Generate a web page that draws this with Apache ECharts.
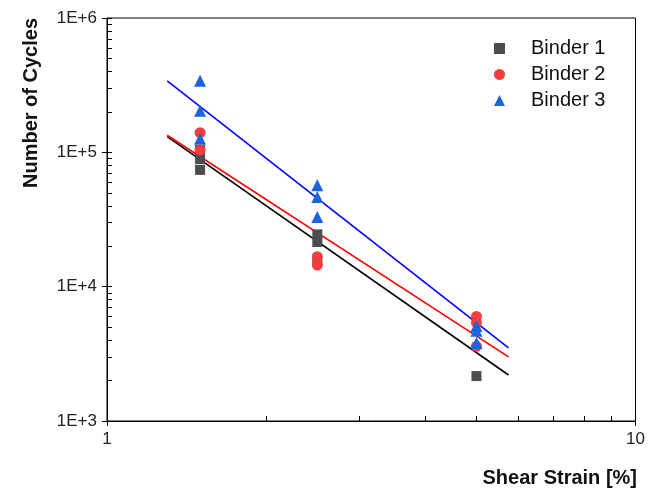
<!DOCTYPE html>
<html>
<head>
<meta charset="utf-8">
<script src="https://cdn.jsdelivr.net/npm/echarts@6/dist/echarts.min.js"></script>
<style>
html,body{margin:0;padding:0;background:#fff;}
#chart{width:648px;height:493px;}
</style>
</head>
<body>
<div id="chart"></div>
<script>
// ---- data ----
var seriesNames = ['Binder 1', 'Binder 2', 'Binder 3'];
var binder1 = [[1.5, 104000], [1.5, 89000], [1.5, 74000], [2.5, 24500], [2.5, 21500], [2.5, 15500], [5, 2160]];
var binder2 = [[1.5, 140000], [1.5, 104000], [2.5, 16700], [2.5, 14500], [5, 6000], [5, 5400], [5, 3600]];
var binder3 = [[1.5, 341000], [1.5, 204000], [1.5, 126000], [2.5, 57000], [2.5, 46600], [2.5, 33000], [5, 5100], [5, 4700], [5, 3800]];
var fit1 = [[1.3, 131000], [5.75, 2200]];
var fit2 = [[1.3, 134000], [5.75, 3000]];
var fit3 = [[1.3, 341000], [5.75, 3500]];
var yMajorTicks = [1000, 10000, 100000, 1000000];
var yTickLabels = ['1E+3', '1E+4', '1E+5', '1E+6'];
var xMajorTicks = [1, 10];
var xTickLabels = ['1', '10'];
var yAllTicks = [];
for (var d = 3; d < 6; d++) { for (var m = 1; m < 10; m++) { yAllTicks.push(m * Math.pow(10, d)); } }
yAllTicks.push(1000000);
var xAllTicks = [1, 2, 3, 4, 5, 6, 7, 8, 9, 10];

var FONT = "'Liberation Sans', Arial, sans-serif";
var chart = echarts.init(document.getElementById('chart'), null, {renderer: 'canvas'});

function yFmt(v) { var i = yMajorTicks.indexOf(v); return i >= 0 ? yTickLabels[i] : ''; }
function xFmt(v) { var i = xMajorTicks.indexOf(v); return i >= 0 ? xTickLabels[i] : ''; }

var option = {
  backgroundColor: '#fff',
  animation: false,
  grid: {left: 107, right: 9, top: 18, bottom: 72, show: true, borderColor: '#000', borderWidth: 1, backgroundColor: 'transparent'},
  legend: {
    orient: 'vertical', left: 489, top: 33,
    itemWidth: 11, itemHeight: 11, itemGap: 5,
    textStyle: {fontFamily: FONT, fontSize: 20, color: '#111', lineHeight: 21, padding: [0, 0, 0, 21]},
    data: [
      {name: seriesNames[0], icon: 'rect'},
      {name: seriesNames[1], icon: 'circle'},
      {name: seriesNames[2], icon: 'triangle'}
    ]
  },
  xAxis: [
    {type: 'log', logBase: 10, min: 1, max: 10, position: 'bottom',
     axisLine: {show: true, lineStyle: {color: '#000', width: 1}},
     axisTick: {show: true, inside: false, length: 5, customValues: xMajorTicks, lineStyle: {color: '#000'}},
     axisLabel: {show: true, customValues: xMajorTicks, formatter: xFmt, margin: 10, fontFamily: FONT, fontSize: 17, color: '#222'},
     splitLine: {show: false}, minorTick: {show: false}},
    {type: 'log', logBase: 10, min: 1, max: 10, position: 'bottom',
     axisLine: {show: false},
     axisTick: {show: true, inside: true, length: 5, customValues: xAllTicks, lineStyle: {color: '#000'}},
     axisLabel: {show: false}, splitLine: {show: false}}
  ],
  yAxis: [
    {type: 'log', logBase: 10, min: 1000, max: 1000000, position: 'left',
     axisLine: {show: true, lineStyle: {color: '#000', width: 1}},
     axisTick: {show: true, inside: false, length: 5, customValues: yMajorTicks, lineStyle: {color: '#000'}},
     axisLabel: {show: true, customValues: yMajorTicks, formatter: yFmt, margin: 10, fontFamily: FONT, fontSize: 17, color: '#222'},
     splitLine: {show: false}},
    {type: 'log', logBase: 10, min: 1000, max: 1000000, position: 'left',
     axisLine: {show: false},
     axisTick: {show: true, inside: true, length: 5, customValues: yAllTicks, lineStyle: {color: '#000'}},
     axisLabel: {show: false}, splitLine: {show: false}}
  ],
  graphic: [
    {type: 'text', x: 31, y: 103, rotation: Math.PI / 2,
     style: {text: 'Number of Cycles', fontFamily: FONT, fontSize: 20, fontWeight: 'bold', fill: '#111', align: 'center', verticalAlign: 'middle'}},
    {type: 'text', x: 637, y: 478,
     style: {text: 'Shear Strain [%]', fontFamily: FONT, fontSize: 20, fontWeight: 'bold', fill: '#111', align: 'right', verticalAlign: 'middle'}}
  ],
  series: [
    {name: 'fit1', type: 'line', data: fit1, showSymbol: false, silent: true, lineStyle: {color: '#000', width: 1.6}, z: 1},
    {name: 'fit2', type: 'line', data: fit2, showSymbol: false, silent: true, lineStyle: {color: '#ff0000', width: 1.6}, z: 1},
    {name: 'fit3', type: 'line', data: fit3, showSymbol: false, silent: true, lineStyle: {color: '#0000ff', width: 1.6}, z: 1},
    {name: seriesNames[0], type: 'scatter', data: binder1, symbol: 'rect', symbolSize: 10, itemStyle: {color: '#4d4d4d', opacity: 1}, z: 2},
    {name: seriesNames[1], type: 'scatter', data: binder2, symbol: 'circle', symbolSize: 11, itemStyle: {color: '#f23d3d', opacity: 1}, z: 3},
    {name: seriesNames[2], type: 'scatter', data: binder3, symbol: 'triangle', symbolSize: 12, itemStyle: {color: '#1c64dc', opacity: 1}, z: 4}
  ]
};
chart.setOption(option);
</script>
</body>
</html>
